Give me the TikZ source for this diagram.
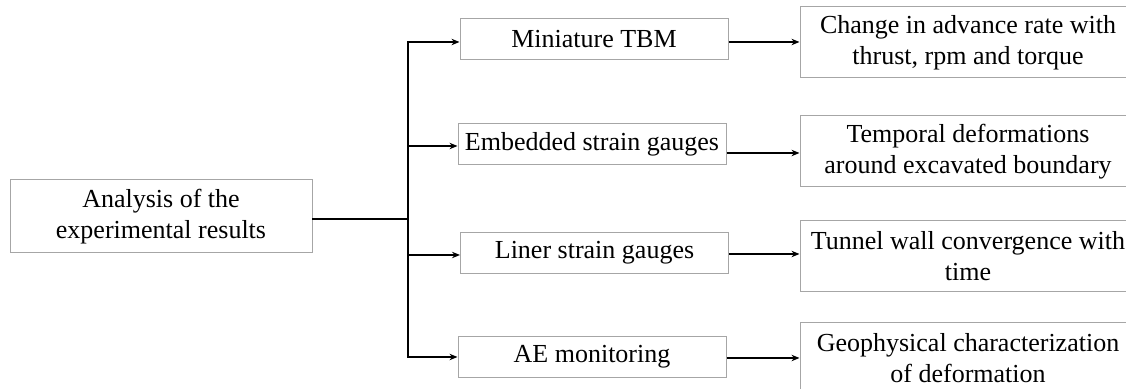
\documentclass[tikz,border=0pt]{standalone}
\usepackage{fontspec}
\setmainfont{Liberation Serif}
\usetikzlibrary{arrows.meta}
\begin{document}
\begin{tikzpicture}[x=0.5pt,y=-0.5pt,
  box/.style={draw=black!35, line width=0.5pt, fill=white, align=center,
    inner sep=0pt, font=\fontsize{13}{15.4}\selectfont},
  srcbox/.style={box, minimum width=151pt, minimum height=36.5pt},
  midbox/.style={box, minimum width=134pt, minimum height=20.5pt},
  outbox/.style={box, minimum width=168pt, minimum height=35.5pt},
  wire/.style={line width=1pt, line cap=rect},
  link/.style={line width=1pt, -{Stealth[length=4pt,width=3.2pt]}}]
  \useasboundingbox (0,0) rectangle (1126,389);
  \clip (0,0) rectangle (1126,389);

  % source box
  \node[srcbox] (src) at (161,216.5) {Analysis of the\\experimental results};

  % measurement branches
  \node[midbox] (m1) at (594,39.5) {Miniature TBM};
  \node[midbox] (m2) at (592,144) {Embedded strain gauges};
  \node[midbox] (m3) at (594.5,253) {Liner strain gauges};
  \node[midbox] (m4) at (592,357) {AE monitoring};

  % outcomes (running past the right and bottom edges)
  \node[outbox] (r1) at (968,42.5) {Change in advance rate with\\thrust, rpm and torque};
  \node[outbox] (r2) at (968,151.5) {Temporal deformations\\around excavated boundary};
  \node[outbox] (r3) at (968,256) {Tunnel wall convergence with\\time};
  \node[outbox] (r4) at (968,358) {Geophysical characterization\\of deformation};

  % trunk
  \coordinate (jt) at (408,42);
  \coordinate (jb) at (408,357);
  \coordinate (jm) at (408,219);
  \draw[wire] (jt) -- (jb);
  \draw[wire] (src.east |- jm) -- (jm);

  % branches into the measurement boxes
  \draw[link] (jt) -- (jt -| m1.west);
  \draw[link] (jt |- 0,146) -- (m2.west |- 0,146);
  \draw[link] (jt |- 0,255) -- (m3.west |- 0,255);
  \draw[link] (jb) -- (jb -| m4.west);

  % measurement boxes to outcomes
  \draw[link] (m1.east |- 0,42) -- (r1.west |- 0,42);
  \draw[link] (m2.east |- 0,153) -- (r2.west |- 0,153);
  \draw[link] (m3.east |- 0,254) -- (r3.west |- 0,254);
  \draw[link] (m4.east |- 0,358) -- (r4.west |- 0,358);
\end{tikzpicture}
\end{document}
